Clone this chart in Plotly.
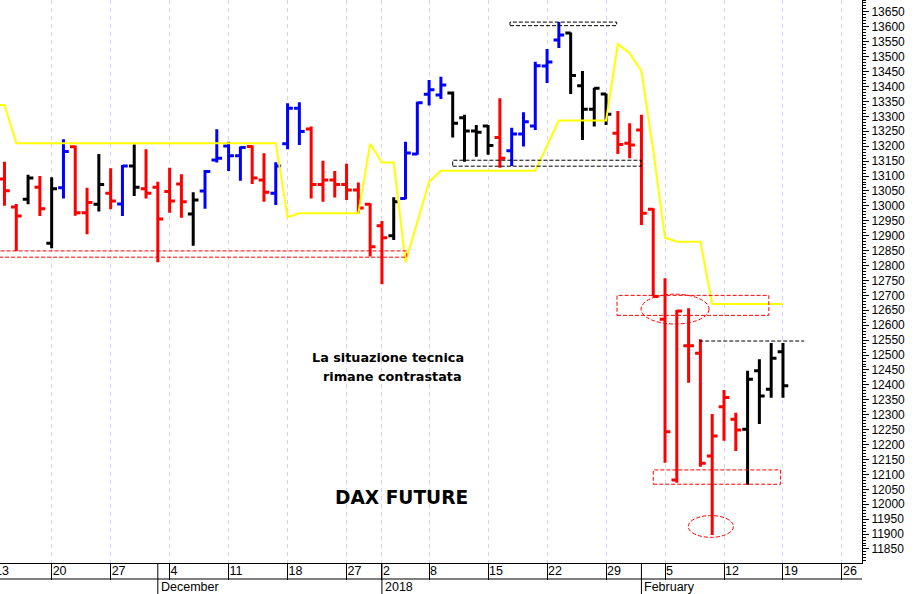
import plotly.graph_objects as go
import pandas as pd

# ---------------- data ----------------
dates = [
    "2017-11-13", "2017-11-14", "2017-11-15", "2017-11-16", "2017-11-17",
    "2017-11-20", "2017-11-21", "2017-11-22", "2017-11-23", "2017-11-24",
    "2017-11-27", "2017-11-28", "2017-11-29", "2017-11-30", "2017-12-01",
    "2017-12-04", "2017-12-05", "2017-12-06", "2017-12-07", "2017-12-08",
    "2017-12-11", "2017-12-12", "2017-12-13", "2017-12-14", "2017-12-15",
    "2017-12-18", "2017-12-19", "2017-12-20", "2017-12-21", "2017-12-22",
    "2017-12-27", "2017-12-28", "2017-12-29",
    "2018-01-02", "2018-01-03", "2018-01-04", "2018-01-05",
    "2018-01-08", "2018-01-09", "2018-01-10", "2018-01-11", "2018-01-12",
    "2018-01-15", "2018-01-16", "2018-01-17", "2018-01-18", "2018-01-19",
    "2018-01-22", "2018-01-23", "2018-01-24", "2018-01-25", "2018-01-26",
    "2018-01-29", "2018-01-30", "2018-01-31", "2018-02-01", "2018-02-02",
    "2018-02-05", "2018-02-06", "2018-02-07", "2018-02-08", "2018-02-09",
    "2018-02-12", "2018-02-13", "2018-02-14", "2018-02-15", "2018-02-16",
    "2018-02-19", "2018-02-20", "2018-02-21", "2018-02-22", "2018-02-23",
    "2018-02-26",
]

opens = [13300, 13090, 12996, 13022, 13062, 12875, 13061, 13198, 12977, 13005,
         13042, 13006, 13134, 13057, 13062, 13048, 13073, 12973, 13050, 13154,
         13201, 13168, 13199, 13087, 13042, 13208, 13327, 13258, 13072, 13087,
         13072, 13053, 13005, 12933, 12900, 13025, 13174, 13374, 13372, 13378,
         13295, 13251, 13268, 13229, 13185, 13241, 13268, 13469, 13556, 13579,
         13403, 13324, 13375, 13243, 13210, 13254, 12989, 12620, 12081, 12531,
         12506, 12162, 12327, 12285, 12251, 12447, 12385, 12511]
highs = [13360, 13148, 13006, 13104, 13100, 13096, 13223, 13202, 13061, 13174,
         13126, 13137, 13206, 13190, 13081, 13128, 13106, 13046, 13120, 13257,
         13215, 13199, 13202, 13176, 13146, 13344, 13347, 13266, 13151, 13117,
         13141, 13078, 13009, 12949, 13029, 13215, 13349, 13422, 13433, 13383,
         13305, 13271, 13271, 13361, 13262, 13314, 13483, 13526, 13616, 13581,
         13452, 13396, 13377, 13318, 13277, 13305, 12992, 12757, 12651, 12657,
         12553, 12302, 12383, 12307, 12447, 12486, 12540, 12540]
lows = [13260, 13000, 12849, 13005, 12966, 12858, 13025, 12967, 12905, 12981,
        12989, 12966, 13033, 13025, 12811, 12977, 12960, 12866, 12990, 13145,
        13117, 13084, 13073, 13014, 13003, 13190, 13204, 13025, 13014, 13028,
        13020, 12975, 12830, 12737, 12886, 13022, 13171, 13336, 13358, 13229,
        13148, 13165, 13171, 13128, 13134, 13199, 13254, 13412, 13529, 13375,
        13221, 13266, 13271, 13174, 13160, 12936, 12696, 12139, 12072, 12407,
        12126, 11897, 12213, 12178, 12065, 12269, 12357, 12357]
closes = [13345, 13051, 12966, 13093, 12990, 13057, 13182, 12977, 13011, 13072,
          13016, 13134, 13062, 13042, 12956, 13016, 13014, 13020, 13115, 13160,
          13168, 13196, 13093, 13046, 13134, 13327, 13249, 13072, 13087, 13072,
          13053, 12993, 12863, 12893, 13014, 13177, 13346, 13389, 13405, 13277,
          13251, 13247, 13202, 13160, 13241, 13282, 13470, 13482, 13573, 13437,
          13324, 13394, 13307, 13206, 13204, 12975, 12696, 12243, 12648, 12531,
          12137, 12229, 12358, 12249, 12419, 12363, 12489, 12397]
# bar signal: U = bullish (blue), D = bearish (red), N = neutral (black)
signal = ["U", "D", "D", "N", "D", "N", "U", "D", "D", "N",
          "D", "U", "N", "D", "D", "D", "D", "N", "U", "U",
          "U", "U", "D", "D", "U", "U", "U", "D", "D", "D",
          "D", "D", "D", "D", "N", "U", "U", "U", "U", "N",
          "N", "N", "N", "D", "U", "U", "U", "U", "U", "N",
          "N", "N", "N", "D", "D", "D", "D", "D", "D", "D",
          "D", "D", "D", "D", "N", "N", "N", "N"]
stop_line = [13338, 13338] + [13210] * 23 + [12962] + [12975] * 6 + \
            [13208, 13145, 13145, 12811, 12946, 13081] + [13118] * 9 + \
            [13202] + [13286] * 5 + [13542, 13512, 13452, 13187, 12893,
                                      12880, 12880, 12880] + [12671] * 7

y_tick_values = list(range(11850, 13651, 50))

# ---------------- helpers ----------------
dt = pd.to_datetime(pd.Series(dates))
idx = list(range(len(dates)))
iso = dt.dt.isocalendar()
week_key = (iso["year"].astype(str) + "-" + iso["week"].astype(str)).tolist()
tick_idx = [i for i in idx if i == 0 or week_key[i] != week_key[i - 1]]
tick_txt = [str(dt[i].day) for i in tick_idx]
month_idx = [i for i in idx if i > 0 and dt[i].month != dt[i - 1].month]

X_RANGE = [0.62, 73.7]


def to_paper_x(v):
    return (v - X_RANGE[0]) / (X_RANGE[1] - X_RANGE[0])


def month_label(i):
    d = dt[i]
    return str(d.year) if d.month == 1 else d.strftime("%B")


colors = {"U": "#0000FF", "D": "#FF0000", "N": "#000000"}
bar_x = list(range(len(opens)))

fig = go.Figure()

for key, col in colors.items():
    sel = [i for i in bar_x if signal[i] == key]
    fig.add_trace(go.Ohlc(
        x=sel,
        open=[opens[i] for i in sel],
        high=[highs[i] for i in sel],
        low=[lows[i] for i in sel],
        close=[closes[i] for i in sel],
        increasing=dict(line=dict(color=col, width=3)),
        decreasing=dict(line=dict(color=col, width=3)),
        tickwidth=0.45,
        showlegend=False,
        hoverinfo="skip",
    ))

fig.add_trace(go.Scatter(
    x=bar_x, y=stop_line, mode="lines",
    line=dict(color="#FFFF00", width=2),
    showlegend=False, hoverinfo="skip",
))

# ---------------- study marks ----------------
RED = "#FF0000"
BLK = "#000000"
DASH = "4px,2px"
shapes = [
    dict(type="rect", x0=-2, x1=35.1, y0=12828, y1=12849, line=dict(color=RED, width=1, dash=DASH)),
    dict(type="rect", x0=39.0, x1=54.97, y0=13133, y1=13153, line=dict(color=BLK, width=1, dash=DASH)),
    dict(type="rect", x0=43.86, x1=52.9, y0=13604, y1=13616, line=dict(color=BLK, width=1, dash=DASH)),
    dict(type="rect", x0=52.93, x1=65.8, y0=12633, y1=12700, line=dict(color=RED, width=1, dash=DASH)),
    dict(type="line", x0=59.9, x1=68.8, y0=12547, y1=12547, line=dict(color=BLK, width=1, dash=DASH)),
    dict(type="rect", x0=56.0, x1=66.8, y0=12067, y1=12115, line=dict(color=RED, width=1, dash=DASH)),
    dict(type="circle", x0=54.97, x1=60.73, y0=12604, y1=12704, line=dict(color=RED, width=1, dash=DASH)),
    dict(type="circle", x0=58.97, x1=62.8, y0=11889, y1=11962, line=dict(color=RED, width=1, dash=DASH)),
]
for s in shapes:
    s.update(xref="x", yref="y", layer="above")

# bottom axis decorations (date row / month row)
row_y = -16 / 563
bot_y = -31 / 563
shapes.append(dict(type="line", xref="paper", yref="paper", x0=0, x1=1, y0=row_y, y1=row_y,
                   line=dict(color="black", width=1)))
for i in month_idx:
    shapes.append(dict(type="line", xref="x", yref="paper", x0=i, x1=i, y0=0, y1=bot_y,
                       line=dict(color="black", width=1)))

AXFONT = dict(family="Liberation Sans, Arial", size=12.5, color="black")
annotations = []
for i in month_idx:
    annotations.append(dict(x=i, y=(row_y + bot_y) / 2, xref="x", yref="paper",
                            text=month_label(i), showarrow=False, xanchor="left",
                            yanchor="middle", xshift=1, font=AXFONT))
# week labels whose tick falls just left of the visible range (text still peeks in)
for i, t in zip(tick_idx, tick_txt):
    if i < X_RANGE[0]:
        annotations.append(dict(x=to_paper_x(i), y=row_y / 2, xref="paper", yref="paper",
                                text=t, showarrow=False, xanchor="left", yanchor="middle",
                                xshift=0, font=AXFONT))

annotations += [
    dict(x=466 / 862, y=1 - 358 / 563, xref="paper", yref="paper", text="La situazione tecnica",
         showarrow=False, xanchor="right", yanchor="middle",
         font=dict(family="DejaVu Sans", size=12.8, color="black", weight="bold")),
    dict(x=464 / 862, y=1 - 376 / 563, xref="paper", yref="paper", text="rimane contrastata",
         showarrow=False, xanchor="right", yanchor="middle",
         font=dict(family="DejaVu Sans", size=12.8, color="black", weight="bold")),
    dict(x=470 / 862, y=1 - 497 / 563, xref="paper", yref="paper", text="DAX FUTURE",
         showarrow=False, xanchor="right", yanchor="middle",
         font=dict(family="DejaVu Sans", size=18.6, color="black", weight="bold")),
]

fig.update_layout(
    width=920, height=594,
    margin=dict(l=0, r=58, t=0, b=31, autoexpand=False),
    paper_bgcolor="white", plot_bgcolor="white",
    shapes=shapes, annotations=annotations,
    xaxis=dict(
        range=X_RANGE, automargin=False,
        tickmode="array", tickvals=tick_idx, ticktext=tick_txt,
        ticks="outside", ticklen=16, tickcolor="black", tickwidth=1,
        ticklabelposition="outside right", ticklabelstandoff=-4,
        tickfont=AXFONT,
        showgrid=True, gridcolor="#D4D4F2", griddash="4px,4px", gridwidth=1,
        showline=True, linecolor="black", linewidth=1, mirror=True,
        zeroline=False, rangeslider=dict(visible=False), fixedrange=True,
    ),
    yaxis=dict(
        side="right", range=[11803, 13690], automargin=False,
        tickmode="array", tickvals=y_tick_values, tickformat="d",
        ticks="outside", ticklen=6, tickcolor="black",
        minor=dict(dtick=10, ticks="outside", ticklen=3, tickcolor="black"),
        tickfont=dict(family="Liberation Sans, Arial", size=12, color="black"),
        showgrid=False, zeroline=False, fixedrange=True,
        showline=True, linecolor="black", linewidth=1,
    ),
)

fig.write_html(
    "out.html",
    config={"displayModeBar": False, "staticPlot": True},
    post_script="document.body.style.margin='0';document.body.style.padding='0';"
                "document.body.style.overflow='hidden';",
)
